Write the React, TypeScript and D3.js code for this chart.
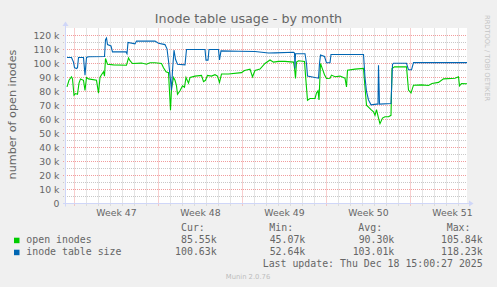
import React from 'react';
import * as d3 from 'd3';

// ---- data (hours since start of the 800-hour window, values in thousands) ----
const sizeHours = [0,9,13,15,19,21,23,33,36,39,43,75,77,79,81,88,91,118,120,122,136,139,176,183,196,200,203,209,211,214,217,221,236,239,276,278,282,284,303,305,308,343,376,403,416,453,455,456,457,476,479,481,503,505,507,515,519,526,528,593,596,599,603,608,619,622,623,625,648,651,653,679,683,689,693,800];
const sizeValues = [104.3,104.3,101,97,96.4,97,104.3,104.3,91.7,104.3,104.8,105,117,118.2,113.5,112.5,108.3,108.3,107,115,114,116,116,114.5,113.5,110.5,102,81,95,109.5,103,99.5,99,110,110,102.4,102.4,110,110,102.5,109,108.8,108.6,107.5,107.6,108,107.5,96.4,107,107,100,91,89.5,100,106,105,100.5,100.5,106.4,106.4,90,80,74,70.5,71,71,98.8,71,71.4,99.3,100.2,100.2,95.5,95.5,100.7,100.63];

const openHours = [0,4,9,11,14,17,21,24,27,33,36,39,43,59,63,66,69,73,75,77,81,93,119,123,126,131,149,159,166,176,189,193,198,203,207,209,213,216,219,221,226,231,235,238,243,246,256,269,273,277,281,289,296,301,305,309,323,349,355,366,371,376,386,396,406,413,423,436,453,455,457,459,463,475,477,481,486,496,499,502,504,507,511,515,519,526,529,536,546,556,559,561,576,593,596,599,604,608,613,616,619,623,626,631,636,643,648,650,655,679,683,688,693,709,723,730,743,753,776,783,785,789,800];
const openValues = [83.3,88,90.5,89,77.4,78.5,78,86,89,88,80.7,90,89,88,78.8,90,92,94,91,103.6,99.5,99,98.8,104,102,100,100.3,99.5,100.5,100.5,100,97,94,93.5,66.7,82,90,88,84,78,80.5,84,83,90,86,90,91,91.5,87,88,91.5,91,92,91,86.5,92.5,92.5,93.5,95,96,90.5,95,96,100,102.5,101,101.5,101.5,101,97,89.3,101,102,101.5,91.7,73.8,75,75,79,80.5,74,100,96,92,89.3,89.5,91.7,90.5,91,89.5,83.3,95.2,96,96.5,83,70.2,68.5,67,65.5,63,67,61,57,61,62,62,63,96.4,97.6,97.6,81,79,84.5,84.7,84.3,85.7,86.5,89,89.5,90.5,84,85.7,85.55];

const weekStartHours = [15, 183, 351, 519, 687];
const weekLabels = ['Week 47', 'Week 48', 'Week 49', 'Week 50', 'Week 51'];

const seriesNames = ['open inodes', 'inode table size'];
const seriesColors = ['#00CC00', '#0066B3'];
const statHeaders = ['Cur:', 'Min:', 'Avg:', 'Max:'];
const openStats = ['85.55k', '45.07k', '90.30k', '105.84k'];
const sizeStats = ['100.63k', '52.64k', '103.01k', '118.23k'];

const W = 497, H = 287;
const SANS = '"DejaVu Sans", Verdana, sans-serif';
const MONO = '"DejaVu Sans Mono", monospace';

export default function App() {
  const x = d3.scaleLinear().domain([0, 800]).range([67, 467]);
  const y = d3.scaleLinear().domain([0, 125]).range([203.5, 28.5]);
  const line = d3.line<number>();

  const mk = (hours: number[], vals: number[]) =>
    d3.line<number>().x((_, i) => x(hours[i])).y((v) => y(v))(vals) || '';

  const minorY = d3.range(5, 125, 5).filter((v) => v % 10 !== 0);
  const majorY = d3.range(10, 121, 10);
  const dayHours = d3.range(15, 800, 24).filter((h) => !weekStartHours.includes(h));
  const labelY = d3.range(0, 121, 10);

  const axisColor = '#CFD6F8';
  const gridColor = '#C8C8C8';
  const mgridColor = '#F19C9C';
  const font = '#666666';

  const statCols = [216.7, 305.3, 394.3, 482.7];
  const headerX = [181, 269.3, 358.3, 446.7];

  return (
    <svg width={W} height={H} style={{ position: 'absolute', left: 0, top: 0 }} xmlns="http://www.w3.org/2000/svg">
      <rect x={0} y={0} width={W} height={H} fill="#F0F0F0" />
      <rect x={66} y={28} width={401} height={175.5} fill="#FFFFFF" />

      {/* minor grid */}
      {minorY.map((v) => (
        <line key={'my' + v} x1={63} x2={467} y1={y(v)} y2={y(v)} stroke={gridColor} strokeWidth={1} strokeDasharray="1,1" />
      ))}
      {dayHours.map((h) => (
        <line key={'mx' + h} x1={x(h)} x2={x(h)} y1={28.5} y2={206} stroke={gridColor} strokeWidth={1} strokeDasharray="1,1" />
      ))}
      {/* major grid */}
      {majorY.map((v) => (
        <line key={'My' + v} x1={63} x2={467} y1={y(v)} y2={y(v)} stroke={mgridColor} strokeWidth={1} strokeDasharray="1,1" />
      ))}
      {weekStartHours.map((h) => (
        <line key={'Mx' + h} x1={x(h)} x2={x(h)} y1={28.5} y2={206} stroke={mgridColor} strokeWidth={1} strokeDasharray="1,1" />
      ))}

      {/* series */}
      <path d={mk(openHours, openValues)} fill="none" stroke={seriesColors[0]} strokeWidth={1.1} />
      <path d={mk(sizeHours, sizeValues)} fill="none" stroke={seriesColors[1]} strokeWidth={1.1} />

      {/* axes */}
      <line x1={63} x2={469} y1={y(0)} y2={y(0)} stroke={axisColor} strokeWidth={1} />
      <line x1={65.5} x2={65.5} y1={206.5} y2={26} stroke={axisColor} strokeWidth={1} />
      <path d="M469,200.5 L473.5,203.5 L469,206.5 Z" fill={axisColor} />
      <path d="M62.5,26 L65.5,21.5 L68.5,26 Z" fill={axisColor} />

      {/* y labels */}
      {labelY.map((v) => (
        <text key={'yl' + v} x={59.5} y={y(v) + 3.4} textAnchor="end" fontFamily={SANS} fontSize={9.3} fill={font}>
          {v === 0 ? '0' : `${v} k`}
        </text>
      ))}
      {/* x labels */}
      {weekStartHours.map((h, i) => (
        <text key={'xl' + h} x={x(h + 84)} y={216} textAnchor="middle" fontFamily={SANS} fontSize={9.3} fill={font}>
          {weekLabels[i]}
        </text>
      ))}

      {/* titles */}
      <text x={248.5} y={23} textAnchor="middle" fontFamily={SANS} fontSize={12.7} fill={font}>
        Inode table usage - by month
      </text>
      <text transform={`translate(15.5,${114.5}) rotate(-90)`} textAnchor="middle" fontFamily={SANS} fontSize={11.2} fill={font}>
        number of open inodes
      </text>
      <text transform={`translate(484.5,15) rotate(90)`} textAnchor="start" fontFamily={SANS} fontSize={6.7} fill="#C4C4C4">
        RRDTOOL / TOBI OETIKER
      </text>

      {/* legend */}
      {statHeaders.map((s, i) => (
        <text key={'h' + s} x={headerX[i]} y={230.7} fontFamily={MONO} fontSize={9.9} fill={font}>
          {s}
        </text>
      ))}
      {[openStats, sizeStats].map((row, r) => (
        <g key={'row' + r}>
          <rect x={14} y={237.7 + r * 12} width={5.5} height={5.5} fill={seriesColors[r]} />
          <text x={26.3} y={242.5 + r * 12} fontFamily={MONO} fontSize={9.9} fill={font} style={{ whiteSpace: 'pre' }}>
            {seriesNames[r]}
          </text>
          {row.map((s, i) => (
            <text key={'s' + i} x={statCols[i]} y={242.5 + r * 12} textAnchor="end" fontFamily={MONO} fontSize={9.9} fill={font}>
              {s}
            </text>
          ))}
        </g>
      ))}
      <text x={482.7} y={266.5} textAnchor="end" fontFamily={MONO} fontSize={9.9} fill={font} style={{ whiteSpace: 'pre' }}>
        Last update: Thu Dec 18 15:00:27 2025
      </text>
      <text x={248} y={279} textAnchor="middle" fontFamily={SANS} fontSize={6.8} fill="#BDBDBD">
        Munin 2.0.76
      </text>
    </svg>
  );
}
